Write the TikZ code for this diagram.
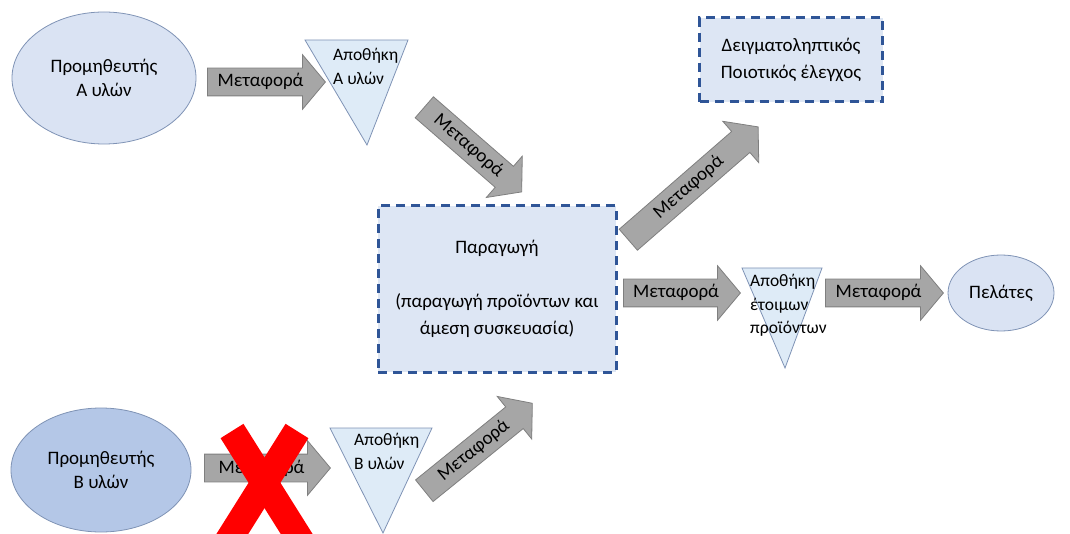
\documentclass[tikz,border=0pt]{standalone}
\usepackage{fontspec}
\setmainfont{Carlito}
\usetikzlibrary{shapes.geometric,shapes.arrows}
\definecolor{ovalfill}{HTML}{DAE3F3}
\definecolor{ovaldark}{HTML}{B4C7E7}
\definecolor{ovalline}{HTML}{7F93B5}
\definecolor{storefill}{HTML}{DEEBF7}
\definecolor{arrowfill}{HTML}{A6A6A6}
\definecolor{arrowline}{HTML}{7F7F7F}
\definecolor{boxfill}{HTML}{DDE6F4}
\definecolor{dashblue}{HTML}{2F5597}
\begin{document}
\begin{tikzpicture}[x=1pt,y=-1pt,
  supplier/.style={ellipse,draw=ovalline,fill=ovalfill,line width=0.8pt,inner sep=0pt,align=center,font=\fontsize{19}{24}\selectfont},
  transport/.style={single arrow,draw=arrowline,fill=arrowfill,line width=0.8pt,single arrow head extend=13.5pt,single arrow tip angle=100,inner xsep=4pt,inner ysep=4.5pt,text height=14pt,text depth=4pt,anchor=tail,font=\fontsize{19}{24}\selectfont},
  stagebox/.style={rectangle,draw=dashblue,fill=boxfill,line width=3pt,dash pattern=on 9pt off 6pt,align=center,font=\fontsize{19}{27}\selectfont},
  store/.style={draw=ovalline,fill=storefill,line width=0.8pt},
  storetext/.style={align=left,anchor=north west,inner sep=0pt,font=\fontsize{17.5}{23.5}\selectfont}]
\useasboundingbox (0,0) rectangle (1070,534);
% suppliers and customers
\node[supplier,minimum width=184pt,minimum height=132pt] (supA) at (104,78) {Προμηθευτής\\Α υλών};
\node[supplier,fill=ovaldark,minimum width=180pt,minimum height=124pt] (supB) at (101,470) {Προμηθευτής\\Β υλών};
\node[supplier,minimum width=106pt,minimum height=76pt] (clients) at (1001,293) {Πελάτες};
% stores
\filldraw[store] (305,40) -- (408,40) -- (367,145) -- cycle;
\node[storetext] (storeA) at (333,48) {Αποθήκη\\Α υλών};
\filldraw[store] (330,428) -- (432,428) -- (383,533) -- cycle;
\node[storetext] (storeB) at (354,433) {Αποθήκη\\Β υλών};
\filldraw[store] (742,268) -- (822,268) -- (785,368) -- cycle;
\node[storetext] (storeP) at (750,274) {Αποθήκη\\έτοιμων\\προϊόντων};
% stages
\node[stagebox,minimum width=238pt,minimum height=166pt] (prod) at (497,289) {Παραγωγή\\ \\(παραγωγή προϊόντων και\\άμεση συσκευασία)};
\node[stagebox,minimum width=183pt,minimum height=84pt] (check) at (791,60) {Δειγματοληπτικός\\Ποιοτικός έλεγχος};
% transport
\node[transport,minimum height=118pt] (trA1) at (207,82) {Μεταφορά};
\node[transport,minimum height=129pt,rotate=-41] (trA2) at (424,107) {Μεταφορά};
\node[transport,minimum height=172pt,rotate=41] (trQC) at (628,240) {Μεταφορά};
\node[transport,minimum height=117pt] (trP) at (623,293) {Μεταφορά};
\node[transport,minimum height=118pt] (trC) at (825,293) {Μεταφορά};
\node[transport,minimum height=126pt] (trB1) at (204,468) {Μεταφορά};
\node[transport,minimum height=139pt,rotate=39] (trB2) at (424,491) {Μεταφορά};
% blocked route
\draw[red,line width=27pt] (232,431) -- (313,560);
\draw[red,line width=27pt] (297,431) -- (216,560);
\end{tikzpicture}
\end{document}
